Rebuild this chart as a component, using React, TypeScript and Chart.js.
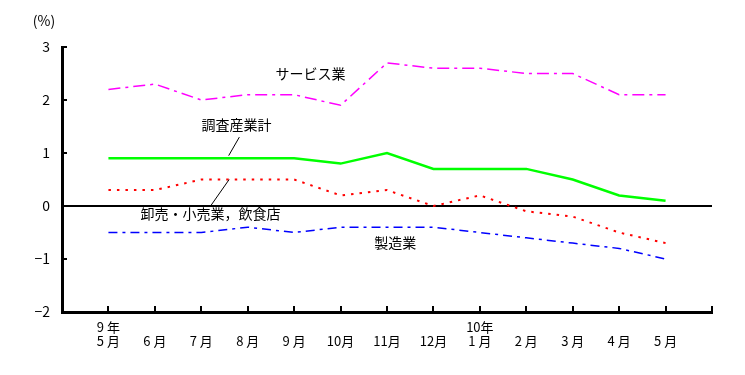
import React, { useEffect, useRef } from "react";
import { Chart, registerables } from "chart.js";

Chart.register(...registerables);

const monthLabels: string[][] = [
  ["9 年", "5 月"], ["", "6 月"], ["", "7 月"], ["", "8 月"], ["", "9 月"],
  ["", "10月"], ["", "11月"], ["", "12月"], ["10年", "1 月"], ["", "2 月"],
  ["", "3 月"], ["", "4 月"], ["", "5 月"],
];
const yTicks = [-2, -1, 0, 1, 2, 3];

const service = [2.2, 2.3, 2.0, 2.1, 2.1, 1.9, 2.7, 2.6, 2.6, 2.5, 2.5, 2.1, 2.1];
const total = [0.9, 0.9, 0.9, 0.9, 0.9, 0.8, 1.0, 0.7, 0.7, 0.7, 0.5, 0.2, 0.1];
const wholesale = [0.3, 0.3, 0.5, 0.5, 0.5, 0.2, 0.3, 0.0, 0.2, -0.1, -0.2, -0.5, -0.7];
const manufacturing = [-0.5, -0.5, -0.5, -0.4, -0.5, -0.4, -0.4, -0.4, -0.5, -0.6, -0.7, -0.8, -1.0];

const seriesNames = ["サービス業", "調査産業計", "卸売・小売業，飲食店", "製造業"];

const FONT = "'Noto Sans CJK JP', 'Noto Sans', sans-serif";

const toPts = (arr: number[]) => arr.map((v, i) => ({ x: i, y: v }));

const annotPlugin = {
  id: "annot",
  afterDraw(chart: any) {
    const ctx = chart.ctx;
    const xs = chart.scales.x;
    const ys = chart.scales.y;
    const area = chart.chartArea;
    ctx.save();
    ctx.strokeStyle = "#000";
    // y tick marks (inside)
    ctx.lineWidth = 2;
    for (const v of yTicks) {
      if (v === 0 || v === -2) continue;
      const py = Math.round(ys.getPixelForValue(v));
      ctx.beginPath();
      ctx.moveTo(area.left, py);
      ctx.lineTo(area.left + 5, py);
      ctx.stroke();
    }
    // x tick marks (inside)
    for (let i = 0; i <= monthLabels.length; i++) {
      const px = Math.round(xs.getPixelForValue(i));
      ctx.beginPath();
      ctx.moveTo(px, area.bottom);
      ctx.lineTo(px, area.bottom - 6);
      ctx.stroke();
    }
    // leader lines
    ctx.lineWidth = 1;
    ctx.beginPath();
    ctx.moveTo(xs.getPixelForValue(2.59), ys.getPixelForValue(0.95));
    ctx.lineTo(xs.getPixelForValue(2.82), ys.getPixelForValue(1.3));
    ctx.stroke();
    ctx.beginPath();
    ctx.moveTo(xs.getPixelForValue(2.2), ys.getPixelForValue(0.0));
    ctx.lineTo(xs.getPixelForValue(2.6), ys.getPixelForValue(0.5));
    ctx.stroke();
    // texts
    ctx.fillStyle = "#000";
    ctx.font = `14px ${FONT}`;
    ctx.textAlign = "center";
    ctx.textBaseline = "middle";
    ctx.fillText(seriesNames[0], xs.getPixelForValue(4.35), ys.getPixelForValue(2.49));
    ctx.fillText(seriesNames[1], xs.getPixelForValue(2.76), ys.getPixelForValue(1.53));
    ctx.fillText(seriesNames[2], xs.getPixelForValue(2.2), ys.getPixelForValue(-0.14));
    ctx.fillText(seriesNames[3], xs.getPixelForValue(6.18), ys.getPixelForValue(-0.7));
    ctx.fillText("(%)", area.left - 18, area.top - 26);
    ctx.restore();
  },
};

export default function App() {
  const ref = useRef<HTMLCanvasElement>(null);
  useEffect(() => {
    if (!ref.current) return;
    const chart = new Chart(ref.current, {
      type: "line",
      data: {
        datasets: [
          {
            label: seriesNames[0],
            data: toPts(service),
            borderColor: "#FF00FF",
            borderWidth: 1.5,
            borderDash: [12, 5, 3, 5],
            pointRadius: 0,
            tension: 0,
          },
          {
            label: seriesNames[1],
            data: toPts(total),
            borderColor: "#00FF00",
            borderWidth: 2.5,
            pointRadius: 0,
            tension: 0,
          },
          {
            label: seriesNames[2],
            data: toPts(wholesale),
            borderColor: "#FF0000",
            borderWidth: 2,
            borderDash: [2.5, 6],
            pointRadius: 0,
            tension: 0,
          },
          {
            label: seriesNames[3],
            data: toPts(manufacturing),
            borderColor: "#0000FF",
            borderWidth: 1.5,
            borderDash: [9, 5, 3, 5],
            pointRadius: 0,
            tension: 0,
          },
        ],
      },
      options: {
        responsive: false,
        animation: false,
        layout: { padding: { left: 0, top: 47, right: 33, bottom: 0 } },
        plugins: { legend: { display: false }, tooltip: { enabled: false } },
        scales: {
          x: {
            type: "linear",
            min: -1,
            max: monthLabels.length,
            afterFit: (s: any) => { s.height = 63; },
            afterBuildTicks: (s: any) => {
              const t = [];
              for (let i = -1; i <= monthLabels.length; i++) t.push({ value: i });
              s.ticks = t;
            },
            ticks: {
              autoSkip: false,
              maxRotation: 0,
              color: "#000",
              padding: 8,
              font: { family: FONT, size: 13, lineHeight: 1.1 },
              callback: (v: any) => monthLabels[v] ?? "",
            },
            grid: { display: false, drawTicks: false },
            border: { display: true, color: "#000", width: 3 },
          },
          y: {
            min: -2,
            max: 3,
            afterFit: (s: any) => { s.width = 62; },
            afterBuildTicks: (s: any) => { s.ticks = yTicks.map((v) => ({ value: v })); },
            ticks: {
              color: "#000",
              padding: 12,
              font: { family: FONT, size: 14 },
              callback: (v: any) => (v < 0 ? "−" + Math.abs(v) : String(v)),
            },
            grid: {
              drawTicks: false,
              color: (c: any) => (c.tick && c.tick.value === 0 ? "#000" : "rgba(0,0,0,0)"),
              lineWidth: (c: any) => (c.tick && c.tick.value === 0 ? 2 : 0),
            },
            border: { display: true, color: "#000", width: 3 },
          },
        },
      } as any,
      plugins: [annotPlugin],
    });
    return () => chart.destroy();
  }, []);
  return (
    <div style={{ position: "fixed", left: 0, top: 0, width: 745, height: 375 }}>
      <canvas ref={ref} width={745} height={375} />
    </div>
  );
}
